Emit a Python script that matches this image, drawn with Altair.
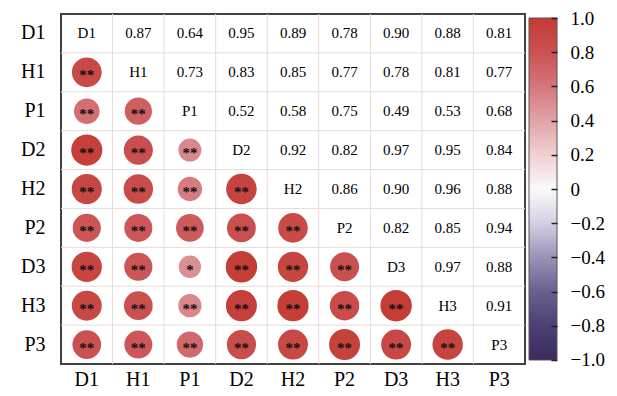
import altair as alt
import pandas as pd

names = ["D1", "H1", "P1", "D2", "H2", "P2", "D3", "H3", "P3"]

# upper-triangle correlation values, row by row (row i, columns i+1 .. 8)
upper = [
    [0.87, 0.64, 0.95, 0.89, 0.78, 0.90, 0.88, 0.81],
    [0.73, 0.83, 0.85, 0.77, 0.78, 0.81, 0.77],
    [0.52, 0.58, 0.75, 0.49, 0.53, 0.68],
    [0.92, 0.82, 0.97, 0.95, 0.84],
    [0.86, 0.90, 0.96, 0.88],
    [0.82, 0.85, 0.94],
    [0.97, 0.88],
    [0.91],
]

# significance marks, same layout as upper
stars = [
    ["**", "**", "**", "**", "**", "**", "**", "**"],
    ["**", "**", "**", "**", "**", "**", "**"],
    ["**", "**", "**", "*", "**", "**"],
    ["**", "**", "**", "**", "**"],
    ["**", "**", "**", "**"],
    ["**", "**", "**"],
    ["**", "**"],
    ["**"],
]

legend_ticks = [1.0, 0.8, 0.6, 0.4, 0.2, 0.0, -0.2, -0.4, -0.6, -0.8, -1.0]
color_domain = [-1.0, -0.8, -0.6, -0.4, -0.2, 0.0, 0.2, 0.4, 0.6, 0.8, 1.0]
color_range = ["#3a2a5e", "#4e3f74", "#6c5f8e", "#9d91b6", "#d6cee2", "#fbf9fa",
               "#f0d0d2", "#e2a3a6", "#d5767b", "#cb5252", "#c33a32"]

up_rows, low_rows = [], []
for i, row in enumerate(upper):
    for k, v in enumerate(row):
        j = i + 1 + k
        up_rows.append({"row": names[i], "col": names[j], "r": v})
        low_rows.append({"row": names[j], "col": names[i], "r": v, "sig": stars[i][k]})
up_df = pd.DataFrame(up_rows)
low_df = pd.DataFrame(low_rows)
diag_df = pd.DataFrame({"row": names, "col": names})
grid_df = pd.DataFrame({"name": names[1:]})
bar_df = pd.DataFrame({"lo": [min(legend_ticks)], "hi": [max(legend_ticks)]})

FONT = "Liberation Serif"
xs = alt.Scale(domain=names, paddingInner=0, paddingOuter=0)
ys = alt.Scale(domain=names, paddingInner=0, paddingOuter=0)
xax = alt.Axis(title=None, labelAngle=0, domain=False, ticks=False, labelFontSize=20,
               labelFont=FONT, labelColor="black", labelPadding=5, grid=False)
yax = alt.Axis(title=None, domain=False, ticks=False, labelFontSize=20,
               labelFont=FONT, labelColor="black", labelPadding=16, grid=False)

vgrid = alt.Chart(grid_df).mark_rule(color="#ead9d9", strokeWidth=1).encode(
    x=alt.X("name:N", scale=xs, axis=xax, bandPosition=0)
)
hgrid = alt.Chart(grid_df).mark_rule(color="#ead9d9", strokeWidth=1).encode(
    y=alt.Y("name:N", scale=ys, axis=yax, bandPosition=0)
)

circles = alt.Chart(low_df).mark_circle(opacity=1).encode(
    x=alt.X("col:N", scale=xs, axis=xax),
    y=alt.Y("row:N", scale=ys, axis=yax),
    size=alt.Size("r:Q", scale=alt.Scale(domain=[0, 1], range=[0, 1018]), legend=None),
    color=alt.Color(
        "r:Q",
        scale=alt.Scale(domain=color_domain, range=color_range, interpolate="rgb"),
        legend=None,
    ),
)

sig_text = alt.Chart(low_df).mark_text(font=FONT, fontSize=15, fontWeight="bold",
                                       color="#111111", dy=3).encode(
    x=alt.X("col:N", scale=xs, axis=xax),
    y=alt.Y("row:N", scale=ys, axis=yax),
    text="sig:N",
)

val_text = alt.Chart(up_df).mark_text(font=FONT, fontSize=15, color="black").encode(
    x=alt.X("col:N", scale=xs, axis=xax),
    y=alt.Y("row:N", scale=ys, axis=yax),
    text=alt.Text("r:Q", format=".2f"),
)

diag_text = alt.Chart(diag_df).mark_text(font=FONT, fontSize=15, color="black").encode(
    x=alt.X("col:N", scale=xs, axis=xax),
    y=alt.Y("row:N", scale=ys, axis=yax),
    text="row:N",
)

main = alt.layer(vgrid, hgrid, circles, sig_text, val_text, diag_text)

# colour bar: one rect filled with the same colour ramp, with its own value axis
grad = alt.LinearGradient(
    gradient="linear", x1=0, x2=0, y1=1, y2=0,
    stops=[alt.GradientStop(offset=(d + 1) / 2, color=c)
           for d, c in zip(color_domain, color_range)],
)
bar_axis = alt.Axis(
    orient="right", title=None, values=legend_ticks, domain=False, grid=False,
    offset=26, tickSize=6, tickWidth=1.5, tickColor="#222222", zindex=2,
    labelExpr="datum.value == 0 ? '0' : format(datum.value, '.1f')",
    labelFont=FONT, labelFontSize=19, labelColor="black", labelPadding=13,
)
colorbar = alt.Chart(bar_df).mark_rect(fill=grad, stroke="#555555", strokeWidth=1).encode(
    x=alt.value(468), x2=alt.value(496),
    y=alt.Y("lo:Q", scale=alt.Scale(domain=[-1.0234, 1.0234], nice=False, zero=False),
            axis=bar_axis),
    y2="hi:Q",
)

chart = alt.layer(main, colorbar).resolve_scale(y="independent").resolve_axis(
    y="independent"
).properties(
    width=464, height=350,
    padding={"left": 53, "top": 6, "right": 83, "bottom": 32},
    autosize=alt.AutoSizeParams(type="none"),
).configure(font=FONT).configure_view(stroke="#45403c", strokeWidth=2)

chart.save("out.html", embed_options={"renderer": "svg", "actions": False})
